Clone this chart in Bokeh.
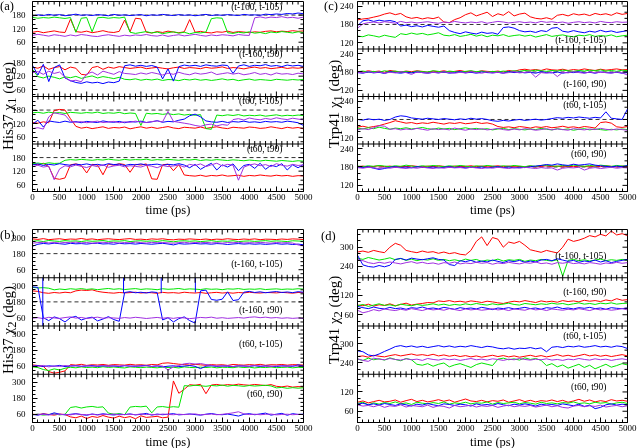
from bokeh.plotting import figure
from bokeh.models import Range1d, FixedTicker, Span, Label, Div
from bokeh.layouts import row, column
from bokeh.embed import file_html
from bokeh.resources import INLINE

# ---------------- data ----------------
t = list(range(0, 5001, 100))
time_ticks = list(range(0, 5001, 500))
time_minor = list(range(0, 5001, 100))

sub_names = ["(t-160, t-105)", "(t-160, t90)", "(t60, t-105)", "(t60, t90)"]

# Panel (a): His37 chi1
a1_red = [104,108,102,106,110,105,103,162,107,104,
          109,102,106,111,105,103,108,158,106,166,
          163,104,101,107,103,109,105,102,106,160,
          104,108,103,101,106,104,109,103,107,105,
          102,106,104,108,110,106,109,107,111,108,
          110]
a1_green = [170,166,169,167,171,168,165,169,104,166,
            169,106,168,170,166,169,167,171,104,99,
            103,107,101,105,98,102,106,100,104,97,
            103,101,105,164,168,166,102,99,104,101,
            106,100,103,98,105,102,107,104,101,106,
            103]
a1_blue = [176,181,178,183,179,182,177,180,184,179,
           181,178,182,180,177,183,179,181,178,180,
           182,177,181,179,183,180,178,182,179,181,
           177,180,183,178,181,179,182,180,178,183,
           180,181,179,184,182,185,183,187,185,189,
           186]
a1_violet = [90,95,91,87,93,90,86,92,88,94,
             91,87,85,90,93,89,86,91,88,92,
             90,94,89,87,92,86,90,93,88,91,
             95,90,87,92,89,93,91,88,94,91,
             90,168,172,167,171,169,173,168,170,166,
             171]

a2_red = [160,155,165,150,158,162,148,160,155,128,
          125,158,163,150,160,155,162,158,154,157,
          160,153,156,159,155,152,157,160,154,158,
          156,153,159,155,157,161,154,158,156,152,
          157,160,155,158,153,156,159,154,157,155,
          158]
a2_green = [150,118,112,120,115,108,117,113,119,110,
            116,121,112,118,114,109,115,106,104,108,
            102,106,103,107,101,105,104,100,106,103,
            107,102,105,101,104,108,103,106,100,104,
            107,102,105,103,101,106,104,102,105,103,
            106]
a2_blue = [168,125,172,96,158,170,112,100,92,88,
           95,90,93,87,94,91,98,166,170,164,
           168,163,167,160,108,152,98,162,169,165,
           168,163,170,166,164,169,167,132,165,170,
           163,168,166,171,164,167,162,169,165,168,
           163]
a2_violet = [135,140,128,142,132,138,115,98,102,95,
             130,138,125,142,135,128,140,132,130,127,
             134,129,136,131,125,133,128,137,130,126,
             134,129,132,138,127,131,135,129,133,126,
             130,136,128,132,125,134,129,131,127,133,
             130]

a3_red = [125,122,128,124,178,183,180,142,108,100,
          104,98,102,106,99,103,101,105,97,102,
          106,100,104,99,103,107,101,98,104,102,
          100,105,99,103,106,101,98,104,102,100,
          105,103,99,101,106,102,98,104,100,103,
          97]
a3_green = [168,170,166,171,167,169,165,170,168,166,
            169,167,171,165,168,166,170,164,167,165,
            112,166,163,165,161,164,160,163,158,161,
            157,160,98,95,158,155,159,156,160,154,
            157,155,158,153,156,159,154,157,155,158,
            156]
a3_blue = [118,135,105,132,128,125,131,126,129,124,
           130,127,125,132,128,126,130,124,129,127,
           131,125,128,133,126,130,128,135,140,155,
           162,150,132,128,126,130,125,129,127,131,
           126,128,125,130,127,129,126,131,128,124,
           112]
a3_violet = [98,102,96,150,168,163,158,130,126,129,
             124,128,131,125,127,130,124,128,126,131,
             127,125,129,132,128,174,130,126,122,118,
             112,108,115,118,110,116,113,138,142,136,
             145,140,137,143,139,146,141,138,144,140,
             137]

a4_red = [152,148,155,140,88,84,90,148,152,145,
          112,150,147,104,151,146,153,149,115,150,
          147,152,86,84,148,151,122,149,103,100,
          98,102,97,101,99,103,98,100,102,97,
          101,99,103,100,98,102,99,101,97,100,
          99]
a4_green = [153,156,152,157,154,155,168,171,169,172,
            170,168,171,169,173,170,168,172,169,171,
            170,173,168,171,169,172,170,168,171,169,
            172,167,170,168,171,169,167,170,168,166,
            169,167,165,168,166,164,167,165,163,166,
            164]
a4_blue = [148,152,145,150,147,153,149,146,151,148,
           152,147,150,146,153,149,151,145,150,148,
           152,147,149,151,146,150,148,153,147,135,
           150,128,142,155,125,148,138,152,122,145,
           150,132,155,128,146,140,153,125,148,135,
           150]
a4_violet = [140,146,138,142,82,130,144,139,147,141,
             136,145,140,148,137,143,146,139,144,141,
             138,146,142,135,145,140,143,147,138,150,
             145,152,140,148,155,143,150,146,80,138,
             147,152,144,149,140,153,146,142,150,145,
             148]

# Panel (b): His37 chi2
b1_red = [290,286,292,284,288,291,285,289,287,293,
          286,290,284,288,291,287,285,289,292,286,
          288,284,290,287,291,285,283,288,286,290,
          287,285,289,284,288,286,291,287,285,289,
          286,290,284,288,287,285,289,286,290,288,
          285]
b1_green = [272,276,270,278,274,271,277,273,275,270,
            276,272,274,278,271,275,273,277,270,274,
            276,272,275,271,277,273,268,274,276,272,
            275,270,273,277,271,274,272,276,270,273,
            275,271,274,277,272,275,273,270,276,274,
            272]
b1_blue = [235,250,256,252,258,254,250,257,253,255,
           251,256,258,252,254,250,257,253,255,251,
           256,253,250,254,257,252,245,255,251,253,
           256,252,254,250,255,253,248,252,255,251,
           254,250,253,249,252,255,250,253,248,251,
           246]
b1_violet = [258,262,265,260,263,259,264,261,266,260,
             263,258,262,265,261,264,259,263,260,266,
             262,259,264,261,263,260,258,262,265,259,
             263,261,264,260,262,258,263,261,265,259,
             262,260,264,261,258,263,260,262,259,245,
             238]

b2_red = [262,258,248,244,250,246,252,248,262,268,
          265,270,258,252,248,245,250,247,249,252,
          246,250,248,244,251,247,249,245,252,248,
          246,250,244,248,251,246,249,245,250,247,
          252,248,246,250,249,247,251,248,245,250,
          248]
b2_green = [288,284,286,282,270,276,272,278,274,279,
            273,277,271,276,280,274,278,272,276,279,
            273,277,275,271,278,274,276,280,273,277,
            275,272,278,274,276,271,277,275,279,273,
            276,274,278,272,275,277,273,276,274,278,
            275]
b2_blue = [292,288,62,40,68,55,30,62,72,45,
           58,66,38,52,70,48,35,250,256,248,
           252,246,254,250,45,62,30,55,68,40,
           22,262,268,198,192,200,255,190,196,252,
           258,250,255,248,253,257,250,254,249,256,
           252]
b2_violet = [58,62,55,65,60,57,63,68,59,64,
             56,61,66,58,62,60,57,63,59,65,
             61,56,60,64,58,62,57,63,60,55,
             59,64,61,66,58,62,57,60,63,59,
             65,68,62,66,60,63,58,61,57,60,
             56]
# wrap-around jumps of the blue trace in (b) (t-160, t90)
b2_spike_t = [190, 1680, 2375, 3005]
b2_spike_lo = [0, 245, 245, 250]
b2_spike_hi = [360, 360, 360, 360]

b3_red = [70,65,58,20,8,15,25,72,68,74,
          66,71,69,73,67,72,70,68,74,69,
          71,67,73,70,82,85,80,75,72,68,
          74,70,67,72,69,71,66,73,70,68,
          72,69,74,67,71,70,73,68,72,70,
          69]
b3_green = [55,50,35,28,40,32,45,52,48,55,
            50,53,49,56,51,54,50,47,55,52,
            49,53,51,48,54,50,52,47,55,51,
            49,53,50,54,48,52,51,49,55,50,
            53,47,52,50,54,49,51,53,48,52,
            50]
b3_blue = [62,65,58,63,60,66,57,62,64,59,
           61,65,58,63,60,62,57,64,61,59,
           63,66,58,62,55,60,63,57,61,65,
           59,42,60,64,58,62,60,57,63,61,
           59,64,58,62,60,57,63,61,59,70,
           62]
b3_violet = [64,60,66,55,62,58,65,61,63,59,
             64,60,62,66,58,63,61,65,59,62,
             60,64,58,63,61,32,55,65,78,82,
             76,80,72,66,62,60,64,58,63,61,
             59,65,62,60,57,63,61,59,64,60,
             62]

b4_red = [62,58,65,60,55,63,59,42,35,48,
          30,45,38,52,40,33,47,36,44,28,
          50,38,42,46,35,40,310,218,248,282,
          278,285,215,280,284,277,283,279,286,281,
          278,284,280,276,283,270,266,272,264,268,
          265]
b4_green = [58,62,55,60,64,57,61,112,118,108,
            116,120,113,117,70,62,66,58,115,120,
            117,122,72,116,119,113,118,114,275,272,
            278,274,270,276,273,279,271,277,274,270,
            276,272,275,278,273,258,262,255,260,256,
            259]
b4_blue = [60,55,64,58,72,62,57,61,66,59,
           54,63,58,65,60,56,62,59,64,57,
           61,68,55,63,58,62,66,57,60,64,
           59,55,62,67,60,58,63,56,48,61,
           66,58,64,70,55,62,68,54,66,60,
           62]
b4_violet = [58,62,60,56,63,59,61,57,64,60,
             58,62,56,61,59,63,57,60,62,58,
             64,59,61,57,63,60,58,62,59,61,
             64,57,60,63,58,61,66,72,80,65,
             59,62,58,61,63,57,60,62,58,61,
             59]

# Panel (c): Trp41 chi1
c1_red = [195,198,200,204,208,214,218,212,216,205,
          200,203,198,202,199,204,188,186,196,202,
          212,218,208,214,220,206,215,210,222,208,
          214,217,205,200,198,202,197,210,213,208,
          215,211,214,209,216,212,215,210,218,213,
          216]
c1_green = [142,140,146,143,139,145,141,138,150,147,
            152,148,151,146,149,153,145,143,147,141,
            144,148,142,146,140,145,143,147,141,144,
            146,142,145,139,143,147,141,144,146,142,
            140,145,143,147,141,144,142,146,140,143,
            145]
c1_blue = [176,192,195,190,194,191,193,189,175,178,
           173,176,172,177,174,171,175,160,154,150,
           156,152,149,155,151,153,148,170,172,168,
           160,156,158,154,160,157,168,170,158,155,
           160,156,153,158,155,161,156,159,154,157,
           160]
c1_violet = [168,182,186,188,185,189,187,184,190,186,
             188,185,187,189,186,184,188,186,190,187,
             185,188,186,189,184,187,190,188,185,187,
             189,186,188,185,190,187,189,186,188,184,
             187,189,186,188,185,190,187,186,189,187,
             188]

c2_red = [182,180,184,181,183,179,185,182,180,183,
          181,184,182,179,183,181,184,180,182,185,
          181,183,180,184,182,181,183,180,185,182,
          187,189,186,188,185,190,187,186,189,185,
          188,186,190,187,185,189,186,188,190,187,
          188]
c2_green = [181,183,180,182,179,184,181,183,180,182,
            178,183,181,180,184,182,179,183,181,180,
            182,184,181,183,179,182,180,183,181,184,
            182,185,183,186,184,182,185,183,186,184,
            182,185,183,186,184,187,183,185,182,186,
            184]
c2_blue = [178,176,180,177,179,175,181,178,176,179,
           177,180,178,176,179,177,180,176,178,181,
           177,179,176,180,178,177,179,176,181,178,
           180,177,179,176,181,178,177,180,176,179,
           178,181,177,179,176,180,178,177,179,176,
           178]
c2_violet = [179,177,181,178,180,176,179,177,181,178,
             172,180,178,176,179,177,180,178,176,179,
             177,181,178,176,180,177,179,176,178,181,
             177,179,180,163,178,176,180,165,179,177,
             181,178,176,180,177,179,178,176,180,177,
             170]

c3_red = [155,158,154,157,160,165,170,176,172,168,
          170,166,169,167,171,168,165,169,167,170,
          166,168,171,167,169,165,157,154,156,153,
          157,155,152,156,154,157,153,155,158,154,
          156,153,157,155,152,170,172,168,156,154,
          157]
c3_green = [152,149,153,150,155,151,148,152,150,153,
            149,151,154,150,148,152,149,151,147,150,
            153,149,151,148,150,146,149,151,147,150,
            148,146,149,147,151,148,146,150,147,149,
            145,148,150,146,149,147,145,148,146,149,
            147]
c3_blue = [180,178,182,179,181,177,180,188,192,190,
           185,183,181,184,182,180,183,181,179,182,
           180,184,181,183,180,176,174,177,175,178,
           180,177,179,181,178,180,183,186,184,187,
           185,188,186,184,187,185,205,184,182,180,
           214]
c3_violet = [146,150,147,153,160,158,148,150,146,149,
             147,151,148,145,150,147,149,146,152,148,
             145,149,147,150,146,148,151,147,145,149,
             146,150,148,145,147,150,146,149,147,145,
             150,148,146,149,147,151,148,146,149,147,
             145]

c4_red = [181,183,180,182,184,181,183,180,182,181,
          184,182,180,183,181,184,182,180,183,181,
          182,184,181,183,180,182,184,181,183,180,
          182,181,183,180,182,184,181,183,180,182,
          181,183,182,180,183,181,184,182,180,183,
          181]
c4_green = [183,181,184,182,185,183,181,184,182,186,
            183,181,184,182,185,183,181,184,182,185,
            183,180,184,182,185,183,181,184,182,185,
            183,181,184,182,185,186,184,182,185,183,
            186,184,182,185,183,186,184,182,185,183,
            184]
c4_blue = [180,178,181,176,172,175,179,181,178,180,
           177,181,179,178,180,177,179,181,178,180,
           177,179,178,180,177,179,181,178,180,177,
           179,178,181,183,185,188,186,190,187,185,
           189,186,188,190,186,184,182,180,183,181,
           185]
c4_violet = [178,176,179,177,175,178,176,179,177,175,
             178,176,179,177,175,178,176,179,177,178,
             176,179,177,175,178,176,179,177,175,178,
             176,179,177,175,178,176,177,170,176,178,
             177,179,170,176,178,175,177,179,176,178,
             177]

# Panel (d): Trp41 chi2
d1_red = [285,288,284,290,286,283,300,312,306,290,
          286,283,288,284,286,281,285,280,283,278,
          276,290,318,332,305,330,325,300,316,312,
          318,306,292,288,284,290,286,282,300,325,
          318,322,328,336,332,340,335,350,338,342,
          336]
d1_green = [266,262,268,264,260,263,267,261,265,259,
            263,258,262,260,264,259,262,258,261,257,
            263,259,262,256,260,258,263,257,261,259,
            262,256,260,258,262,259,257,261,210,259,
            262,258,261,257,260,263,258,261,259,262,
            260]
d1_blue = [275,245,240,238,243,239,244,262,265,260,
           266,263,261,264,267,262,260,246,243,258,
           255,259,253,257,254,260,256,252,258,255,
           259,253,257,254,260,262,258,264,260,256,
           259,253,257,255,260,254,258,252,256,259,
           262]
d1_violet = [262,258,252,249,253,250,254,251,248,252,
             255,250,253,249,251,247,252,250,254,248,
             251,249,253,250,252,247,251,249,253,250,
             248,252,250,254,249,251,247,252,250,253,
             249,251,248,252,250,247,251,249,253,250,
             252]

d2_red = [90,88,93,87,91,89,94,88,92,96,
          90,93,95,98,97,103,101,104,100,102,
          99,103,101,98,102,100,97,95,99,102,
          100,104,101,98,103,100,102,99,104,101,
          103,100,105,102,104,101,106,103,110,105,
          107]
d2_green = [88,92,86,90,94,89,91,87,93,90,
            88,92,89,91,94,90,93,89,92,90,
            94,91,95,92,90,94,91,93,96,92,
            90,95,93,91,94,92,96,93,95,91,
            94,97,93,95,92,96,94,97,93,95,
            96]
d2_blue = [86,82,79,84,80,78,83,79,81,77,
           82,80,84,79,81,78,83,80,77,82,
           79,81,78,83,80,76,81,79,82,78,
           80,83,79,81,77,82,80,84,79,81,
           78,82,80,83,79,81,77,82,80,79,
           81]
d2_violet = [74,66,70,76,72,78,75,73,77,74,
             79,76,73,78,75,77,74,79,76,73,
             78,75,77,74,76,79,75,77,73,78,
             76,74,79,75,77,73,78,76,74,77,
             75,79,76,73,78,75,77,74,76,79,
             75]

d3_red = [260,262,258,264,261,259,263,266,262,265,
          268,264,266,263,267,262,265,261,264,260,
          263,259,262,258,261,264,260,263,259,262,
          258,261,264,260,263,259,262,266,261,264,
          260,263,267,262,265,261,264,260,263,266,
          262]
d3_green = [252,248,255,250,253,249,256,251,247,254,
            250,236,233,238,230,236,240,228,234,238,
            232,226,235,240,236,232,252,255,250,253,
            249,256,251,254,248,232,238,228,234,224,
            230,236,226,233,222,229,236,227,232,238,
            234]
d3_blue = [278,275,265,262,268,276,283,291,294,290,
           293,289,292,288,291,294,290,293,289,292,
           290,294,291,288,292,290,286,284,287,283,
           286,285,288,284,287,275,289,291,288,292,
           290,293,289,291,294,290,292,289,293,291,
           285]
d3_violet = [253,248,245,255,252,250,254,251,249,253,
             250,252,248,254,251,249,253,250,252,248,
             251,254,250,252,249,253,251,248,252,250,
             254,251,249,252,250,253,249,251,248,252,
             250,254,251,249,253,250,252,248,251,253,
             250]

d4_red = [88,92,86,90,94,89,91,95,88,93,
          97,90,94,89,92,96,91,95,88,93,
          98,92,90,94,89,93,91,95,88,92,
          96,90,94,89,93,91,95,90,94,88,
          92,97,91,95,89,93,90,96,92,94,
          91]
d4_green = [84,88,80,86,82,87,84,89,83,86,
            81,88,85,83,87,84,89,82,86,84,
            88,83,86,85,89,82,87,84,86,88,
            83,87,85,82,88,84,86,83,87,85,
            89,84,86,83,88,85,87,82,86,88,
            84]
d4_blue = [82,85,80,83,79,84,81,78,83,80,
           76,82,79,84,80,77,83,81,78,82,
           80,76,83,79,81,78,84,80,77,82,
           79,83,80,76,82,79,81,78,83,80,
           77,82,75,79,68,72,80,83,79,82,
           80]
d4_violet = [80,76,78,74,79,72,77,75,80,73,
             78,76,74,79,72,77,75,70,78,74,
             76,79,73,77,75,78,72,76,79,74,
             77,75,78,73,76,79,74,77,72,70,
             76,78,74,77,75,79,73,76,78,74,
             77]

# ---------------- styling / layout ----------------
FONT = "Liberation Serif"
COLORS = {"red": "#ff0000", "green": "#00e600", "blue": "#0000ff", "violet": "#a030e0"}
ORDER = ["red", "green", "blue", "violet"]


def S4(r, g, b, v):
    return {"red": r, "green": g, "blue": b, "violet": v}


PANELS = {
    "a": dict(span=210, ranges=[(30, 240)] * 4, majors=[[60, 120, 180]] * 4, minor=20,
              dashed=[180, 180, 180, 180],
              series=[S4(a1_red, a1_green, a1_blue, a1_violet), S4(a2_red, a2_green, a2_blue, a2_violet),
                      S4(a3_red, a3_green, a3_blue, a3_violet), S4(a4_red, a4_green, a4_blue, a4_violet)],
              label_vals=[214, 216, 222, 220], ystand=7),
    "b": dict(span=360, ranges=[(0, 360)] * 4, majors=[[60, 180, 300]] * 4, minor=30,
              dashed=[180, 180, None, None],
              series=[S4(b1_red, b1_green, b1_blue, b1_violet), S4(b2_red, b2_green, b2_blue, b2_violet),
                      S4(b3_red, b3_green, b3_blue, b3_violet), S4(b4_red, b4_green, b4_blue, b4_violet)],
              label_vals=[106, 123, 222, 209], ystand=7),
    "c": dict(span=155, ranges=[(100, 255)] * 4, majors=[[120, 180, 240]] * 4, minor=20,
              dashed=[180, 180, 180, 180],
              series=[S4(c1_red, c1_green, c1_blue, c1_violet), S4(c2_red, c2_green, c2_blue, c2_violet),
                      S4(c3_red, c3_green, c3_blue, c3_violet), S4(c4_red, c4_green, c4_blue, c4_violet)],
              label_vals=[131, 142, 226, 224], ystand=4),
    "d": dict(span=150, ranges=[(205, 355), (25, 175), (205, 355), (25, 175)],
              majors=[[240, 300], [60, 120], [240, 300], [60, 120]], minor=20,
              dashed=[None, None, None, None],
              series=[S4(d1_red, d1_green, d1_blue, d1_violet), S4(d2_red, d2_green, d2_blue, d2_violet),
                      S4(d3_red, d3_green, d3_blue, d3_violet), S4(d4_red, d4_green, d4_blue, d4_violet)],
              label_vals=[274, 132, 325, 134], ystand=4),
}


def style_axis(ax, standoff):
    ax.major_tick_in = 5
    ax.major_tick_out = 0
    ax.minor_tick_in = 3
    ax.minor_tick_out = 0
    ax.axis_line_color = "black"
    ax.major_tick_line_color = "black"
    ax.minor_tick_line_color = "black"
    ax.major_label_text_font = FONT
    ax.major_label_text_color = "black"
    ax.major_label_text_font_size = "9px"
    ax.major_label_standoff = standoff
    ax.axis_label_text_font = FONT
    ax.axis_label_text_font_style = "normal"
    ax.axis_label_text_color = "black"


def build(key, fw, fh, bl, br, bt, bb, xlabel_standoff):
    cfg = PANELS[key]
    S = cfg["span"]
    p = figure(frame_width=fw, frame_height=fh, min_border_left=bl, min_border_right=br,
               min_border_top=bt, min_border_bottom=bb,
               x_range=Range1d(0, 5000), y_range=Range1d(0, 4 * S),
               output_backend="svg", toolbar_location=None,
               background_fill_color="white", border_fill_color="white",
               outline_line_color="black", outline_line_width=1)
    p.xgrid.visible = False
    p.ygrid.visible = False

    extra = {}
    yt, ym, ov = [], [], {}
    for k, (lo, hi) in enumerate(cfg["ranges"]):
        base = (3 - k) * S
        extra[f"s{k}"] = Range1d(lo - base, lo - base + 4 * S)
        for v in cfg["majors"][k]:
            yt.append(base + v - lo)
            ov[base + v - lo] = str(v)
        m = cfg["minor"]
        v = (lo // m + 1) * m
        while v < hi:
            if v not in cfg["majors"][k]:
                ym.append(base + v - lo)
            v += m
    p.extra_y_ranges = extra

    for k, (lo, hi) in enumerate(cfg["ranges"]):
        base = (3 - k) * S
        d = cfg["dashed"][k]
        if d is not None:
            p.add_layout(Span(location=base + d - lo, dimension="width", line_color="#333333",
                              line_dash="4 3", line_width=1, level="underlay"))
        ser = cfg["series"][k]
        for c in ORDER:
            p.line(t, ser[c], y_range_name=f"s{k}", line_color=COLORS[c], line_width=1)
        if key == "b" and k == 1:
            p.segment(x0=b2_spike_t, y0=b2_spike_lo, x1=b2_spike_t, y1=b2_spike_hi,
                      y_range_name="s1", line_color=COLORS["blue"], line_width=1)
        p.add_layout(Label(x=4610, y=base + cfg["label_vals"][k] - lo, text=sub_names[k],
                           text_align="right", text_baseline="middle", text_font=FONT,
                           text_font_size="9.5px", text_color="black"))
        if k > 0:
            p.add_layout(Span(location=(4 - k) * S, dimension="width", line_color="black", line_width=1))

    # mirrored tick marks (top edge, subpanel boundaries, right edge), from the tick lists
    dxp = 5000.0 / fw
    dyp = 4.0 * S / fh
    x0, y0, x1, y1 = [], [], [], []
    for x in time_minor:
        if x in (0, 5000):
            continue
        L = 5 if x in time_ticks else 3
        x0.append(x); x1.append(x); y0.append(4 * S); y1.append(4 * S - L * dyp)
        for j in (1, 2, 3):
            x0.append(x); x1.append(x); y0.append(j * S - L * dyp); y1.append(j * S + L * dyp)
    for y in yt + ym:
        L = 5 if y in yt else 3
        x0.append(5000 - L * dxp); x1.append(5000); y0.append(y); y1.append(y)
    p.segment(x0=x0, y0=y0, x1=x1, y1=y1, line_color="black", line_width=1)

    yax = p.yaxis[0]
    yax.ticker = FixedTicker(ticks=yt, minor_ticks=ym)
    yax.major_label_overrides = ov
    style_axis(yax, cfg["ystand"])

    xax = p.xaxis[0]
    xax.ticker = FixedTicker(ticks=time_ticks, minor_ticks=time_minor)
    style_axis(xax, 2)
    xax.axis_label = "time (ps)"
    xax.axis_label_text_font_size = "12.5px"
    xax.axis_label_standoff = xlabel_standoff
    return p


fa = build("a", 271, 190, 32, 15, 1, 38, 0)
fb = build("b", 271, 193, 32, 15, 0, 26, 1)
fc = build("c", 270, 190, 39, 11, 1, 38, 0)
fd = build("d", 270, 193, 39, 11, 0, 26, 1)


def letter(txt, left, top):
    return Div(text=txt, styles={"position": "absolute", "left": f"{left}px", "top": f"{top}px",
                                 "font-family": FONT, "font-size": "12.5px", "line-height": "12px",
                                 "margin": "0px", "padding": "0px", "color": "black"})


def ytitle(html, cx, cy):
    w, h = 16, 130
    return Div(text=html, width=w, height=h,
               styles={"position": "absolute", "left": f"{cx - w / 2}px", "top": f"{cy - h / 2}px",
                       "writing-mode": "vertical-rl", "transform": "rotate(180deg)",
                       "text-align": "center", "white-space": "nowrap",
                       "font-family": FONT, "font-size": "15px", "line-height": "16px",
                       "margin": "0px", "padding": "0px", "color": "black"})


root = row(column(fa, fb, spacing=0), column(fc, fd, spacing=0),
           letter("(a)", 0, 0), letter("(b)", 0, 229), letter("(c)", 324, 0), letter("(d)", 321, 230),
           ytitle("His37 &chi;<sub>1</sub> (deg)", 8, 106),
           ytitle("His37 &chi;<sub>2</sub> (deg)", 8, 330),
           ytitle("Trp41 &chi;<sub>1</sub> (deg)", 334, 104),
           ytitle("Trp41 &chi;<sub>2</sub> (deg)", 334, 320),
           spacing=0, styles={"position": "fixed", "left": "0px", "top": "0px"})

open("out.html", "w").write(file_html(root, INLINE))
